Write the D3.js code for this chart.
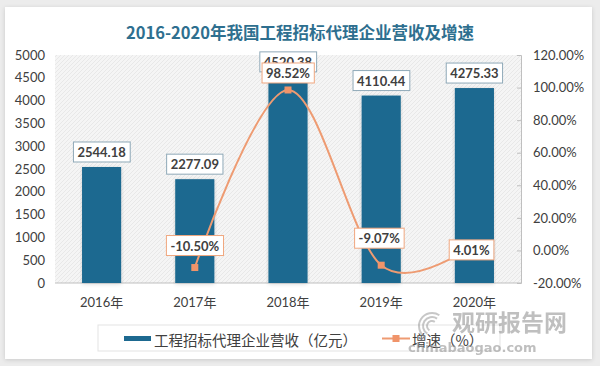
<!DOCTYPE html>
<html><head><meta charset="utf-8">
<script src="https://cdn.jsdelivr.net/npm/d3@7"></script>
<style>
html,body{margin:0;padding:0;background:#ececec;}
svg{display:block;}
</style></head>
<body>
<svg id="chart" width="600" height="366"></svg>
<script>
const years = ["2016年","2017年","2018年","2019年","2020年"];
const revenue = [2544.18, 2277.09, 4520.38, 4110.44, 4275.33];
const growth = [null, -10.50, 98.52, -9.07, 4.01];
const leftTicks = [0,500,1000,1500,2000,2500,3000,3500,4000,4500,5000];
const rightTicks = [-20,0,20,40,60,80,100,120];
const title = "2016-2020年我国工程招标代理企业营收及增速";
const seriesNames = ["工程招标代理企业营收（亿元）","增速（%）"];

const svg = d3.select("#chart");
const font = "Lato, 'Noto Sans CJK SC', sans-serif";
const txt = "#404040";

const defs = svg.append("defs");
const f = defs.append("filter").attr("id","sh").attr("x","-5%").attr("y","-5%").attr("width","110%").attr("height","110%");
f.append("feDropShadow").attr("dx",0).attr("dy",1).attr("stdDeviation",2).attr("flood-color","#000").attr("flood-opacity",0.15);
const pat = defs.append("pattern").attr("id","hatch").attr("patternUnits","userSpaceOnUse").attr("width",4).attr("height",4);
pat.append("rect").attr("width",4).attr("height",4).attr("fill","#f5f5f5");
pat.append("path").attr("d","M0,4L4,0").attr("stroke","#e8e8e8").attr("stroke-width",1);

svg.append("rect").attr("x",5).attr("y",7).attr("width",587).attr("height",352).attr("fill","#fff").attr("filter","url(#sh)");

svg.append("text").attr("x",300).attr("y",39).attr("text-anchor","middle")
  .attr("font-family","'Noto Sans CJK SC', sans-serif").attr("font-weight","bold")
  .attr("font-size",16.5).attr("fill","#2e6f8f").text(title);

const L = 55, R = 521, T = 55, B = 283;
const x = d3.scaleBand().domain(years).range([L,R]).paddingInner(0.58).paddingOuter(0.29);
const yL = d3.scaleLinear().domain([0,5000]).range([B,T]);
const yR = d3.scaleLinear().domain([-20,120]).range([B,T]);

svg.append("rect").attr("x",L).attr("y",T).attr("width",R-L).attr("height",B-T).attr("fill","url(#hatch)");

const gl = svg.append("g").attr("transform",`translate(${L},0)`)
  .call(d3.axisLeft(yL).tickValues(leftTicks).tickFormat(d3.format("d")).tickSize(0).tickPadding(10));
gl.select(".domain").remove();
gl.selectAll("text").attr("font-family",font).attr("font-size",13).attr("fill",txt);

const gr = svg.append("g").attr("transform",`translate(${R},0)`)
  .call(d3.axisRight(yR).tickValues(rightTicks).tickSizeInner(-4).tickSizeOuter(-4).tickPadding(12)
    .tickFormat(d=>d.toFixed(2)+"%"));
gr.select(".domain").attr("stroke","#bfbfbf");
gr.selectAll(".tick line").attr("stroke","#bfbfbf");
gr.selectAll("text").attr("font-family",font).attr("font-size",13).attr("fill",txt);

const gb = svg.append("g").attr("transform",`translate(0,${B})`)
  .call(d3.axisBottom(x).tickSize(0).tickPadding(15));
gb.select(".domain").attr("stroke","#bfbfbf").attr("d",`M${L},0H${R}`);
gb.selectAll("text").attr("font-family",font).attr("font-size",13).attr("fill",txt);

const barFill = "#1d6990";
svg.append("g").selectAll("rect").data(revenue).join("rect")
  .attr("x",(d,i)=>x(years[i])).attr("width",x.bandwidth())
  .attr("y",d=>yL(d)).attr("height",d=>B-yL(d))
  .attr("fill",barFill).attr("filter","url(#sh)");

const lineColor = "#ee9b72";
const pts = growth.map((g,i)=>({g,i})).filter(p=>p.g!==null);
const line = d3.line().x(p=>x(years[p.i])+x.bandwidth()/2).y(p=>yR(p.g)).curve(d3.curveCardinal.tension(0));
svg.append("path").datum(pts).attr("d",line).attr("fill","none").attr("stroke",lineColor).attr("stroke-width",2);
svg.append("g").selectAll("rect").data(pts).join("rect")
  .attr("x",p=>x(years[p.i])+x.bandwidth()/2-3.5).attr("y",p=>yR(p.g)-3.5)
  .attr("width",7).attr("height",7).attr("fill","#f0946a");

function labelBox(cx, cy, text, border){
  const g = svg.append("g");
  const t = g.append("text").attr("x",cx).attr("y",cy).attr("text-anchor","middle").attr("dominant-baseline","central")
    .attr("font-family",font).attr("font-weight","bold").attr("font-size",13).attr("fill","#404040").text(text);
  const bb = t.node().getBBox();
  g.insert("rect","text").attr("x",bb.x-4).attr("y",cy-10).attr("width",bb.width+8).attr("height",20)
    .attr("fill","#fff").attr("stroke",border).attr("stroke-width",1);
}
revenue.forEach((v,i)=>{
  labelBox(x(years[i])+x.bandwidth()/2, yL(v)-15, v.toFixed(2), "#8fa9b8");
});
const gOff = {1:-22, 2:-17, 3:-27, 4:6};
pts.forEach(p=>{
  labelBox(x(years[p.i])+x.bandwidth()/2 + (p.i===3?-2:0) - (p.i===4?3:0), yR(p.g)+gOff[p.i], p.g.toFixed(2)+"%", "#f0a77f");
});

svg.append("rect").attr("x",98).attr("y",325).attr("width",402).attr("height",26).attr("fill","#fff").attr("stroke","#e3e3e3");
svg.append("rect").attr("x",124).attr("y",336).attr("width",27).attr("height",5).attr("fill",barFill);
svg.append("text").attr("x",154).attr("y",339).attr("dominant-baseline","central")
  .attr("font-family","'Noto Sans CJK SC', sans-serif").attr("font-size",14.5).attr("fill",txt).text(seriesNames[0]);
svg.append("line").attr("x1",382).attr("x2",410).attr("y1",338.5).attr("y2",338.5).attr("stroke",lineColor).attr("stroke-width",2);
svg.append("rect").attr("x",392.5).attr("y",335).attr("width",7).attr("height",7).attr("fill","#f0946a");
svg.append("text").attr("x",412).attr("y",339).attr("dominant-baseline","central")
  .attr("font-family","'Noto Sans CJK SC', sans-serif").attr("font-size",14.5).attr("fill",txt).text(seriesNames[1]);

const wm = svg.append("g").attr("opacity",0.55);
[14,10,6].forEach((r,k)=>{
  wm.append("path").attr("d",d3.arc()({innerRadius:r-2,outerRadius:r,startAngle:-2.6,endAngle:0.6}))
    .attr("transform","translate(432,326)").attr("fill","#9a9a9a");
});
wm.append("text").attr("x",452).attr("y",331).attr("font-family","'Noto Sans CJK SC', sans-serif")
  .attr("font-weight","bold").attr("font-size",23).attr("fill","#8c8c8c").text("观研报告网");
wm.append("text").attr("x",408).attr("y",352).attr("font-family","'DejaVu Sans', sans-serif")
  .attr("font-weight","bold").attr("font-size",13).attr("fill","#8c8c8c").text("chinabaogao.com");
</script>
</body></html>
